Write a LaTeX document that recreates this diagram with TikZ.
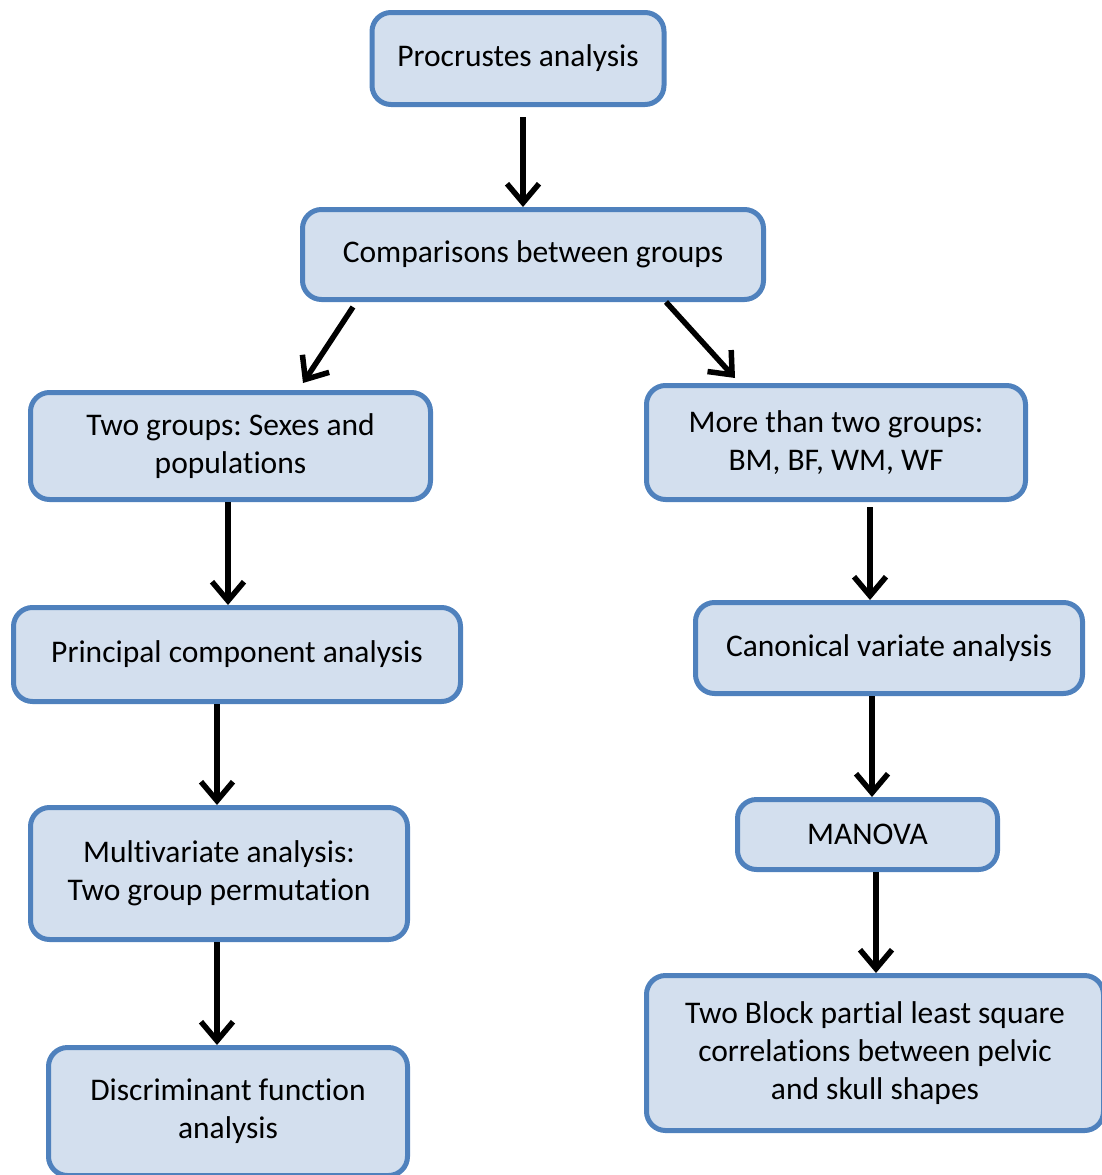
\documentclass[tikz,border=0pt]{standalone}
\usepackage{fontspec}
\setmainfont{Carlito}[Ligatures=NoCommon]
\frenchspacing
\usetikzlibrary{arrows.meta}
\definecolor{bfill}{HTML}{D3DFEE}
\definecolor{bline}{HTML}{4F81BD}
\tikzset{
  every picture/.style={line width=5pt},
  stage/.style={draw=bline, fill=bfill, rounded corners=19pt, align=center, inner sep=0pt, font=\fontsize{31.5}{38}\selectfont},
  arrow/.style={-{Straight Barb[length=19pt, width=32pt]}, draw=black, line width=5.5pt},
}
\begin{document}
\begin{tikzpicture}[x=1pt, y=-1pt]
  \useasboundingbox (0,0) rectangle (1102,1175);
  \node[stage, minimum width=292pt, minimum height=92pt] (proc) at (518,58.5) {Procrustes analysis};
  \node[stage, minimum width=461pt, minimum height=90pt] (comp) at (533,254.5) {Comparisons between groups};
  \node[stage, minimum width=400pt, minimum height=107pt] (two) at (230.5,446) {Two groups: Sexes and\\populations};
  \node[stage, minimum width=379pt, minimum height=114pt] (more) at (836,442.5) {More than two groups:\\BM, BF, WM, WF};
  \node[stage, minimum width=447pt, minimum height=94pt] (pca) at (237,654.5) {Principal component analysis};
  \node[stage, minimum width=387pt, minimum height=91pt] (cva) at (889,648) {Canonical variate analysis};
  \node[stage, minimum width=377pt, minimum height=132pt] (mva) at (219,873.5) {Multivariate analysis:\\Two group permutation};
  \node[stage, minimum width=260pt, minimum height=70pt] (manova) at (867.5,834.5) {MANOVA};
  \node[stage, minimum width=359pt, minimum height=128pt] (dfa) at (228,1111.5) {Discriminant function\\analysis};
  \node[stage, minimum width=457pt, minimum height=155pt] (pls) at (875,1053) {Two Block partial least square\\correlations between pelvic\\and skull shapes};
  \draw[arrow] ([xshift=5pt, yshift=-10pt]proc.south) -- ([xshift=-10pt]comp.north);
  \draw[arrow] ([xshift=-180pt, yshift=-5pt]comp.south) -- ([xshift=72.5pt, yshift=7pt]two.north);
  \draw[arrow] ([xshift=133pt]comp.south) -- ([xshift=-101pt, yshift=5pt]more.north);
  \draw[arrow] ([xshift=-2.5pt]two.south) -- ([xshift=-9pt]pca.north);
  \draw[arrow] ([xshift=-20pt]pca.south) -- ([xshift=-2pt]mva.north);
  \draw[arrow] ([xshift=34pt, yshift=-5pt]more.south) -- ([xshift=-19pt]cva.north);
  \draw[arrow] ([xshift=-17pt]cva.south) -- ([xshift=4.5pt]manova.north);
  \draw[arrow] ([xshift=8.5pt]manova.south) -- ([xshift=1pt]pls.north);
  \draw[arrow] ([xshift=-2pt]mva.south) -- ([xshift=-11pt]dfa.north);
\end{tikzpicture}
\end{document}
